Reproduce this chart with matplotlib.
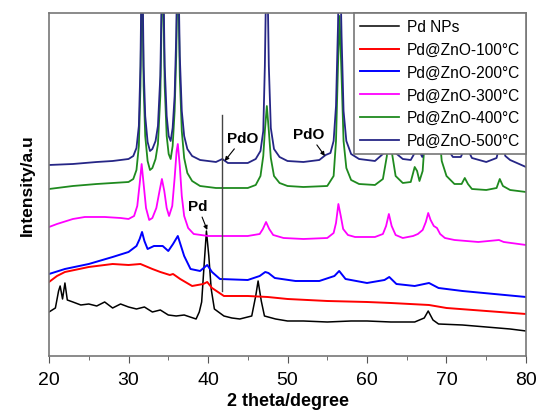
import numpy as np
import matplotlib.pyplot as plt

plt.rcParams['font.family'] = ['Liberation Sans', 'DejaVu Sans']

# XRD patterns (2 theta in degree, intensity in arbitrary units)
theta_500 = [20, 23, 26, 28, 30, 30.6, 31.0, 31.3, 31.5, 31.7, 31.9, 32.1, 32.4, 32.7, 33.0, 33.4, 33.7, 34.0, 34.3, 34.55, 34.8, 35.05, 35.3, 35.55, 35.8, 36.0, 36.2, 36.45, 36.7, 37.0, 37.4, 38, 39, 41, 41.8, 42.5, 45, 46.0, 46.6, 46.95, 47.15, 47.4, 47.65, 47.9, 48.3, 49, 50, 52, 54.0, 54.8, 55.4, 55.8, 56.1, 56.35, 56.55, 56.8, 57.05, 57.4, 58, 59, 61, 62.0, 62.5, 62.8, 63.1, 63.6, 64.5, 65.5, 66.0, 66.3, 66.7, 66.95, 67.3, 67.7, 68.2, 68.6, 69.0, 69.4, 69.9, 70.8, 71.8, 72.2, 72.4, 72.7, 73.2, 75, 76.3, 76.7, 77.0, 77.4, 78, 80]
int_500 = [191, 192, 194, 195, 197, 200, 208, 230, 290, 420, 290, 240, 214, 205, 207, 215, 230, 280, 420, 290, 240, 220, 215, 228, 260, 320, 420, 300, 245, 220, 207, 200, 196, 194, 197, 193, 193, 197, 205, 225, 290, 420, 290, 228, 207, 199, 195, 194, 196, 201, 203, 215, 250, 330, 420, 320, 245, 215, 202, 197, 195, 202, 225, 420, 225, 203, 197, 196, 203, 215, 203, 199, 225, 420, 300, 320, 420, 240, 210, 199, 199, 206, 215, 206, 198, 194, 198, 212, 212, 200, 196, 189]

theta_400 = [20, 23, 26, 28, 30, 30.6, 31.0, 31.3, 31.5, 31.7, 31.9, 32.1, 32.4, 32.7, 33.0, 33.4, 33.7, 34.0, 34.3, 34.55, 34.8, 35.05, 35.3, 35.55, 35.8, 36.0, 36.2, 36.45, 36.7, 37.0, 37.4, 38, 39, 41, 45, 46.0, 46.6, 46.95, 47.15, 47.4, 47.65, 47.9, 48.3, 49, 50, 52, 55, 55.8, 56.1, 56.35, 56.55, 56.8, 57.05, 57.4, 58, 59, 61, 62.0, 62.5, 62.8, 63.1, 63.6, 64.5, 65.5, 66.0, 66.3, 66.6, 67.0, 67.3, 67.6, 67.9, 68.2, 68.5, 68.9, 69.4, 70.0, 71, 71.9, 72.3, 72.7, 73.2, 75, 76.3, 76.7, 77.1, 78, 80]
int_400 = [167, 170, 172, 173, 174, 177, 186, 210, 270, 400, 270, 220, 195, 186, 188, 197, 212, 260, 400, 270, 220, 202, 197, 210, 245, 300, 400, 280, 225, 198, 183, 175, 170, 168, 168, 171, 180, 200, 225, 250, 225, 198, 180, 173, 170, 169, 170, 180, 215, 290, 340, 280, 215, 188, 176, 172, 171, 177, 200, 330, 205, 180, 173, 174, 189, 185, 175, 185, 220, 380, 260, 240, 350, 240, 195, 180, 172, 172, 178, 172, 167, 166, 168, 177, 170, 166, 164]

theta_300 = [20, 21, 23, 24.5, 27, 29, 30, 30.7, 31.1, 31.4, 31.65, 31.9, 32.2, 32.6, 33.0, 33.5, 33.9, 34.2, 34.5, 34.8, 35.1, 35.5, 35.8, 36.05, 36.2, 36.45, 36.7, 37.0, 37.5, 38.2, 40, 45, 46.5, 46.9, 47.3, 47.7, 48.2, 49.5, 52, 55, 55.8, 56.1, 56.4, 56.7, 57.0, 57.6, 58.5, 61, 62.0, 62.4, 62.75, 63.1, 63.6, 64.5, 65.8, 66.4, 67.0, 67.4, 67.7, 68.0, 68.4, 68.8, 69.2, 69.8, 71, 74, 76.6, 77.2, 80]
int_300 = [129, 132, 137, 139, 139, 138, 137, 140, 150, 172, 192, 172, 148, 136, 138, 148, 165, 177, 165, 148, 140, 150, 178, 205, 212, 190, 160, 140, 128, 122, 120, 120, 122, 127, 134, 127, 121, 118, 117, 118, 123, 133, 152, 140, 127, 121, 119, 119, 122, 130, 142, 130, 121, 118, 120, 122, 126, 134, 143, 136, 130, 128, 122, 118, 116, 114, 116, 114, 111]

theta_200 = [20, 22, 25, 28, 30, 31.0, 31.4, 31.7, 32.0, 32.4, 33.2, 34.3, 35.0, 35.6, 36.2, 36.6, 37.0, 37.8, 39.0, 39.6, 39.9, 40.5, 41.5, 45, 46.5, 47.2, 47.6, 48.4, 51, 54, 55.9, 56.5, 57.3, 60, 62.2, 62.8, 63.7, 66, 67.8, 69, 72, 76, 80]
int_200 = [82, 87, 92, 99, 104, 110, 117, 124, 115, 107, 110, 110, 105, 112, 120, 110, 100, 87, 85, 89, 91, 84, 77, 76, 80, 84, 83, 78, 75, 75, 80, 85, 77, 73, 76, 79, 72, 70, 73, 68, 65, 62, 59]

theta_100 = [20, 21, 22, 25, 28, 30, 31.5, 33, 34, 35.2, 35.6, 36.5, 38, 39.4, 39.9, 40.5, 42, 45, 47.5, 50, 55, 60, 63, 67.8, 70, 75, 80]
int_100 = [74, 80, 84, 89, 92, 91, 92, 87, 84, 81, 82, 77, 70, 72, 74, 68, 60, 60, 59, 57, 55, 54, 53, 51, 48, 45, 42]

theta_np = [20, 20.8, 21.2, 21.4, 21.7, 22.0, 22.3, 23, 24, 25, 26, 27, 28, 29, 30, 31, 32, 33, 34, 35, 36, 37, 38.5, 38.9, 39.2, 39.5, 39.8, 40.1, 40.4, 40.8, 42, 43, 44, 45.5, 46.0, 46.3, 46.7, 47.1, 48.5, 50, 52, 55, 58, 60, 63, 66, 67.2, 67.7, 68.3, 69, 72, 75, 78, 80]
int_np = [44, 48, 65, 70, 57, 73, 56, 54, 51, 52, 50, 54, 48, 52, 49, 47, 49, 44, 46, 41, 40, 41, 37, 44, 54, 90, 125, 100, 67, 47, 40, 38, 37, 40, 60, 75, 55, 40, 37, 35, 35, 34, 35, 35, 34, 34, 38, 45, 36, 32, 31, 29, 27, 25]

# marker line for the PdO position
pdo_x = [41.8, 41.8]
pdo_y = [65, 241]

fig = plt.figure(figsize=(5.37, 4.14), dpi=100)
ax = fig.add_axes([0.0913, 0.1377, 0.8882, 0.8285])

ax.plot(theta_np, int_np, color='black', lw=1.1, label='Pd NPs')
ax.plot(theta_100, int_100, color='#ff0000', lw=1.4, label='Pd@ZnO-100\u00b0C')
ax.plot(theta_200, int_200, color='#0000ff', lw=1.4, label='Pd@ZnO-200\u00b0C')
ax.plot(theta_300, int_300, color='#ff00ff', lw=1.3, label='Pd@ZnO-300\u00b0C')
ax.plot(theta_400, int_400, color='#1f8a1f', lw=1.3, label='Pd@ZnO-400\u00b0C')
ax.plot(theta_500, int_500, color='#262686', lw=1.3, label='Pd@ZnO-500\u00b0C')
ax.plot(pdo_x, pdo_y, color='#444444', lw=1)

arrow = dict(arrowstyle='-|>', color='black', lw=0.8, mutation_scale=6, shrinkA=1, shrinkB=0)
ax.annotate('PdO', xy=(42.1, 195), xytext=(44.4, 218), fontsize=11, fontweight='bold',
            ha='center', va='center', arrowprops=arrow)
ax.annotate('PdO', xy=(54.7, 200), xytext=(52.7, 222), fontsize=11, fontweight='bold',
            ha='center', va='center', arrowprops=arrow)
ax.annotate('Pd', xy=(39.9, 126), xytext=(38.7, 150), fontsize=11, fontweight='bold',
            ha='center', va='center', arrowprops=arrow)

ax.set_xlim(20, 80)
ax.set_ylim(0, 343)
ax.set_xticks(np.arange(20, 81, 10))
ax.set_xticks(np.arange(25, 80, 10), minor=True)
ax.set_yticks([])
ax.tick_params(axis='x', which='major', direction='out', length=5, color='#555555', labelsize=14, pad=6)
ax.tick_params(axis='x', which='minor', direction='out', length=3, color='#555555')
for s in ax.spines.values():
    s.set_color('#777777')
    s.set_linewidth(1.2)

ax.set_xlabel('2 theta/degree', fontsize=13, fontweight='bold', labelpad=3)
ax.set_ylabel('Intensity/a.u', fontsize=12.5, fontweight='bold', labelpad=10)

leg = ax.legend(loc='upper right', fontsize=11.2, frameon=True, fancybox=False,
                borderaxespad=0, handlelength=2.5, labelspacing=0.5, handletextpad=0.5)
leg.get_frame().set_edgecolor('#777777')
leg.get_frame().set_linewidth(1.2)
leg.get_frame().set_alpha(1)

fig.savefig('out.png', dpi=100)
